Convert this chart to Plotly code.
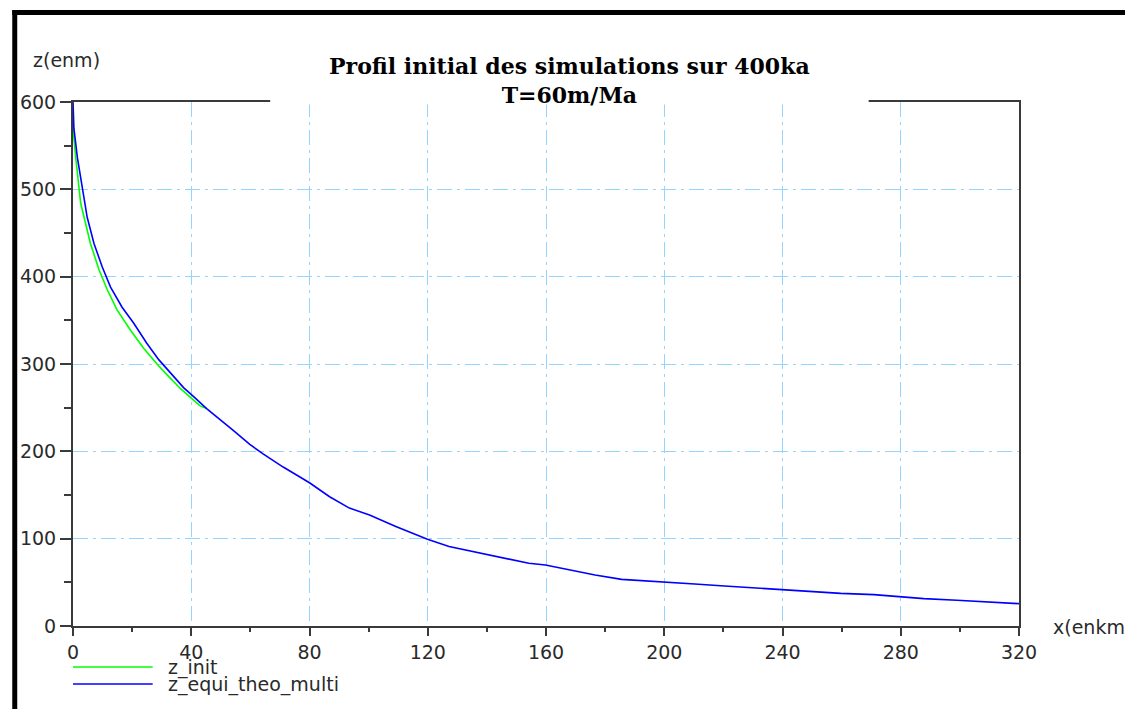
import plotly.graph_objects as go

# ---- data ----
x_init = [0, 0.9, 2.6, 4.3, 5.9, 8.8, 11.6, 14.9, 19.4, 23.9, 28.4, 32.0, 36.3, 40.0, 43.0, 45.2]
z_init = [570, 537, 484, 461, 438, 408, 385, 362, 339, 318, 300, 287, 272, 261, 252, 249]

x_equi = [0, 0.3, 1.5, 2.6, 3.1, 4.8, 7.1, 9.9, 12.7, 16.6, 20.5, 24.9, 29.0, 33.0, 37.4,
          41.0, 45.2, 54.2, 59.8, 64.3, 71.1, 80.0, 86.8, 93.5, 100.3, 109.2, 119.9, 127.2,
          133.0, 140.7, 154.2, 159.8, 167.6, 176.6, 185.6, 200.2, 210.3, 220.4, 229.4,
          240.3, 250.7, 259.7, 270.9, 280.2, 287.8, 299.0, 310.2, 320.0]
z_equi = [600, 570, 536, 514, 499, 468, 438, 411, 388, 365, 347, 324, 305, 290, 273,
          262, 249, 224, 208, 197, 182, 164, 148, 135, 127, 114, 99.3, 91,
          87, 81.3, 71.8, 69.8, 64.1, 58.4, 53.4, 50.7, 48.1, 45.8, 43.9,
          42.0, 39.3, 37.4, 35.9, 33.6, 31.3, 29.4, 27.1, 25.6]

series_names = ["z_init", "z_equi_theo_multi"]
series_colors = ["#00ff00", "#0000ff"]

x_ticks = [0, 40, 80, 120, 160, 200, 240, 280, 320]
y_ticks = [0, 100, 200, 300, 400, 500, 600]

title_text = "Profil initial des simulations sur 400ka<br>T=60m/Ma"
x_label = "x(enkm)"
y_label = "z(enm)"

# ---- layout geometry (page pixels; the page places the figure at an 8px offset) ----
OFF = 8
PAGE_W, PAGE_H = 1133, 709
W, H = PAGE_W - OFF, PAGE_H - OFF
AX_X0, AX_X1, AX_Y0, AX_Y1 = 69, 1019, 102, 626   # plot area in page pixels
L, T = AX_X0 - OFF, AX_Y0 - OFF
R, B = W - (AX_X1 - OFF), H - (AX_Y1 - OFF)
PW, PH = AX_X1 - AX_X0, AX_Y1 - AX_Y0


def px(xp):
    return (xp - AX_X0) / PW


def py(yp):
    return (AX_Y1 - yp) / PH


tick_font = dict(family="DejaVu Sans", size=19, color="#2a2a2a")
axis_col = "#3a3a3a"
grid_col = "#94d4ff"
grid_dash = "15px,5px,3px,5px"

fig = go.Figure()
fig.add_trace(go.Scatter(x=x_init, y=z_init, mode="lines", name=series_names[0],
                         line=dict(color=series_colors[0], width=1.6), showlegend=False))
fig.add_trace(go.Scatter(x=x_equi, y=z_equi, mode="lines", name=series_names[1],
                         line=dict(color=series_colors[1], width=1.6), showlegend=False))

fig.update_layout(
    width=W, height=H, autosize=False,
    margin=dict(l=L, r=R, t=T, b=B, pad=0),
    paper_bgcolor="white", plot_bgcolor="white",
    xaxis=dict(range=[0, 320], tickvals=x_ticks, ticks="outside", ticklen=8, tickwidth=1.5,
               tickcolor=axis_col, showline=True, linecolor=axis_col, linewidth=2, mirror=True,
               showgrid=True, gridcolor=grid_col, gridwidth=1, griddash=grid_dash,
               zeroline=False, tickfont=tick_font,
               minor=dict(tick0=0, dtick=20, ticks="outside", ticklen=4, tickwidth=1.5,
                          tickcolor=axis_col, showgrid=False)),
    yaxis=dict(range=[0, 600], tickvals=y_ticks, ticks="outside", ticklen=11, tickwidth=1.5,
               tickcolor=axis_col, showline=True, linecolor=axis_col, linewidth=2, mirror=True,
               showgrid=True, gridcolor=grid_col, gridwidth=1, griddash=grid_dash,
               zeroline=False, tickfont=tick_font,
               minor=dict(tick0=0, dtick=50, ticks="outside", ticklen=7, tickwidth=1.5,
                          tickcolor=axis_col, showgrid=False)),
)

# black frame bars (left and top)
fig.add_shape(type="rect", xref="paper", yref="paper", x0=px(8), x1=px(13), y0=py(PAGE_H), y1=py(10),
              fillcolor="black", line=dict(width=0), layer="above")
fig.add_shape(type="rect", xref="paper", yref="paper", x0=px(8), x1=px(PAGE_W), y0=py(15), y1=py(10),
              fillcolor="black", line=dict(width=0), layer="above")

# white band interrupting the top axis line behind the title
fig.add_shape(type="rect", xref="paper", yref="paper", x0=px(267), x1=px(868), y0=py(104.5), y1=py(96),
              fillcolor="white", line=dict(width=0), layer="above")

# title
fig.add_annotation(text=title_text, xref="paper", yref="paper", x=px(567.5), y=py(81),
                   xanchor="center", yanchor="middle", showarrow=False, align="center",
                   font=dict(family="DejaVu Serif", size=22, color="black", weight="bold"))

# axis labels
fig.add_annotation(text=y_label, xref="paper", yref="paper", x=px(27), y=py(60),
                   xanchor="left", yanchor="middle", showarrow=False, font=tick_font)
fig.add_annotation(text=x_label, xref="paper", yref="paper", x=px(1051), y=py(627),
                   xanchor="left", yanchor="middle", showarrow=False, font=tick_font)

# legend (drawn below the axis)
legend_rows = [667, 684]
for name, col, row in zip(series_names, series_colors, legend_rows):
    fig.add_shape(type="line", xref="paper", yref="paper", x0=px(69), x1=px(149),
                  y0=py(row), y1=py(row), line=dict(color=col, width=1.6))
    fig.add_annotation(text=name, xref="paper", yref="paper", x=px(162), y=py(row),
                       xanchor="left", yanchor="middle", showarrow=False, font=tick_font)

fig.write_html("out.html")
